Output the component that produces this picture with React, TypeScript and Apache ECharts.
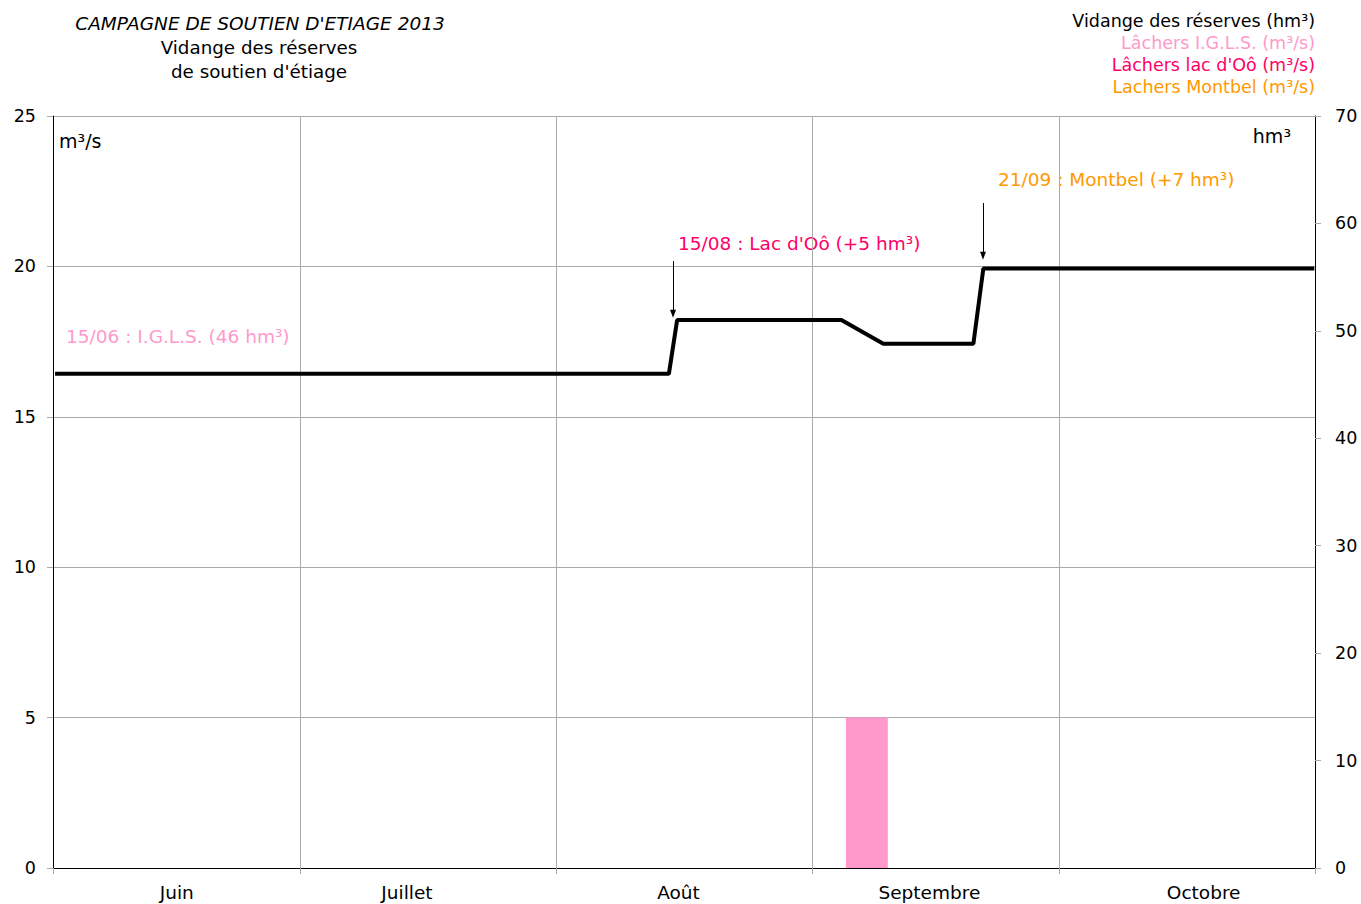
import React, { useEffect, useRef } from 'react';
import * as echarts from 'echarts';

// ---- data ----
const X_MIN = '2013-06-01 00:00';
const X_MAX = '2013-11-01 00:00';
const monthBoundaries = ['2013-06-01 00:00', '2013-07-01 00:00', '2013-08-01 00:00', '2013-09-01 00:00', '2013-10-01 00:00', '2013-11-01 00:00'];
const monthLabels = ['Juin', 'Juillet', 'Août', 'Septembre', 'Octobre'];
const monthLabelDates = ['2013-06-16 00:00', '2013-07-13 22:00', '2013-08-15 20:00', '2013-09-15 06:00', '2013-10-18 12:00'];

const vidangeDates = ['2013-06-01 06:00', '2013-08-14 16:00', '2013-08-15 16:00', '2013-09-04 14:00', '2013-09-09 16:00', '2013-09-20 14:00', '2013-09-21 19:00', '2013-10-31 22:00'];
const vidangeValues = [46, 46, 51, 51, 48.8, 48.8, 55.8, 55.8];

const iglsDates = ['2013-09-05 03:00', '2013-09-10 05:00'];
const iglsValues = [5, 5];

const arrowDates = ['2013-08-15 04:00', '2013-09-21 18:00'];
const arrowFrom = [56.5, 61.9];
const arrowTo = [51.6, 57.0];

const leftTicks = { min: 0, max: 25, interval: 5 };
const rightTicks = { min: 0, max: 70, interval: 10 };

const seriesNames = ['Vidange des réserves (hm³)', 'Lâchers I.G.L.S. (m³/s)', "Lâchers lac d'Oô (m³/s)", 'Lachers Montbel (m³/s)'];
const seriesColors = ['#000000', '#FF99CC', '#FF0066', '#FF9900'];

const annotations = [
  { text: '15/06 : I.G.L.S. (46 hm³)', color: '#FF99CC', x: 66, y: 336 },
  { text: "15/08 : Lac d'Oô (+5 hm³)", color: '#FF0066', x: 678, y: 243 },
  { text: '21/09 : Montbel (+7 hm³)', color: '#FF9900', x: 998, y: 179 },
];

const FONT = '"DejaVu Sans", Verdana, sans-serif';

function ts(s: string): number {
  const [d, t] = s.split(' ');
  const [y, m, dd] = d.split('-').map(Number);
  const [hh, mi] = (t || '00:00').split(':').map(Number);
  return new Date(y, m - 1, dd, hh, mi).getTime();
}

export default function App() {
  const ref = useRef<HTMLDivElement>(null);
  useEffect(() => {
    document.body.style.margin = '0';
    if (!ref.current) return;
    const chart = echarts.init(ref.current, null, { renderer: 'svg' });
    const labelTs = monthLabelDates.map(ts);
    const option: any = {
      animation: false,
      backgroundColor: '#ffffff',
      textStyle: { fontFamily: FONT },
      grid: { left: 53, right: 46, top: 116, bottom: 36, containLabel: false },
      legend: {
        orient: 'vertical',
        right: 36,
        top: 7,
        align: 'right',
        itemWidth: 0,
        itemHeight: 0,
        itemGap: 4,
        icon: 'rect',
        selectedMode: false,
        data: seriesNames.map((n, i) => ({ name: n, textStyle: { color: seriesColors[i], fontSize: 17.5, lineHeight: 18, fontFamily: FONT } })),
      },
      xAxis: {
        type: 'value',
        min: ts(X_MIN),
        max: ts(X_MAX),
        axisLine: { show: true, lineStyle: { color: '#000', width: 1 } },
        axisTick: { show: true, length: 6, lineStyle: { color: '#aaa' }, customValues: monthBoundaries.map(ts) },
        splitLine: { show: true, lineStyle: { color: '#aaa', width: 1 } },
        axisLabel: {
          customValues: labelTs,
          margin: 15,
          fontSize: 18.5,
          color: '#000',
          fontFamily: FONT,
          formatter: (v: number) => {
            let best = 0;
            let bd = Infinity;
            labelTs.forEach((t, i) => { const d = Math.abs(t - v); if (d < bd) { bd = d; best = i; } });
            return monthLabels[best];
          },
        },
      },
      yAxis: [
        {
          type: 'value',
          ...leftTicks,
          position: 'left',
          axisLine: { show: true, lineStyle: { color: '#000' } },
          axisTick: { show: true, length: 6, lineStyle: { color: '#aaa' } },
          splitLine: { show: true, lineStyle: { color: '#aaa' } },
          axisLabel: { fontSize: 17.5, color: '#000', margin: 17, fontFamily: FONT },
        },
        {
          type: 'value',
          ...rightTicks,
          position: 'right',
          axisLine: { show: true, lineStyle: { color: '#000' } },
          axisTick: { show: true, length: 6, lineStyle: { color: '#aaa' } },
          splitLine: { show: false },
          axisLabel: { fontSize: 17.5, color: '#000', margin: 20, fontFamily: FONT },
        },
      ],
      series: [
        {
          name: seriesNames[0],
          type: 'line',
          yAxisIndex: 1,
          symbol: 'none',
          color: seriesColors[0],
          lineStyle: { color: '#000', width: 4 },
          data: vidangeDates.map((d, i) => [ts(d), vidangeValues[i]]),
          z: 5,
          markLine: {
            silent: true,
            symbol: ['none', 'triangle'],
            symbolSize: [6, 8],
            label: { show: false },
            lineStyle: { color: '#000', width: 1, type: 'solid' },
            data: arrowDates.map((d, i) => [
              { coord: [ts(d), arrowFrom[i]], symbol: 'none' },
              { coord: [ts(d), arrowTo[i]], symbol: 'triangle', symbolRotate: 180 },
            ]),
          },
        },
        {
          name: seriesNames[1],
          type: 'line',
          yAxisIndex: 0,
          symbol: 'none',
          color: seriesColors[1],
          lineStyle: { width: 0 },
          areaStyle: { color: seriesColors[1], opacity: 1 },
          data: iglsDates.map((d, i) => [ts(d), iglsValues[i]]),
          z: 3,
        },
        { name: seriesNames[2], type: 'line', yAxisIndex: 0, color: seriesColors[2], data: [] },
        { name: seriesNames[3], type: 'line', yAxisIndex: 0, color: seriesColors[3], data: [] },
      ],
      graphic: [
        { type: 'text', x: 260, y: 23, style: { text: "CAMPAGNE DE SOUTIEN D'ETIAGE 2013", fontSize: 18.5, fontStyle: 'italic', fontFamily: FONT, fill: '#000', align: 'center', verticalAlign: 'middle' } },
        { type: 'text', x: 259, y: 47, style: { text: 'Vidange des réserves', fontSize: 18.3, fontFamily: FONT, fill: '#000', align: 'center', verticalAlign: 'middle' } },
        { type: 'text', x: 259, y: 71, style: { text: "de soutien d'étiage", fontSize: 18.3, fontFamily: FONT, fill: '#000', align: 'center', verticalAlign: 'middle' } },
        { type: 'text', x: 59, y: 141, style: { text: 'm³/s', fontSize: 19, fontFamily: FONT, fill: '#000', align: 'left', verticalAlign: 'middle' } },
        { type: 'text', x: 1291, y: 136, style: { text: 'hm³', fontSize: 19, fontFamily: FONT, fill: '#000', align: 'right', verticalAlign: 'middle' } },
        ...annotations.map((a) => ({ type: 'text', x: a.x, y: a.y, style: { text: a.text, fontSize: 18.5, fontFamily: FONT, fill: a.color, align: 'left', verticalAlign: 'middle' } })),
      ],
    };
    chart.setOption(option);
    return () => chart.dispose();
  }, []);
  return <div ref={ref} style={{ width: 1361, height: 904 }} />;
}
